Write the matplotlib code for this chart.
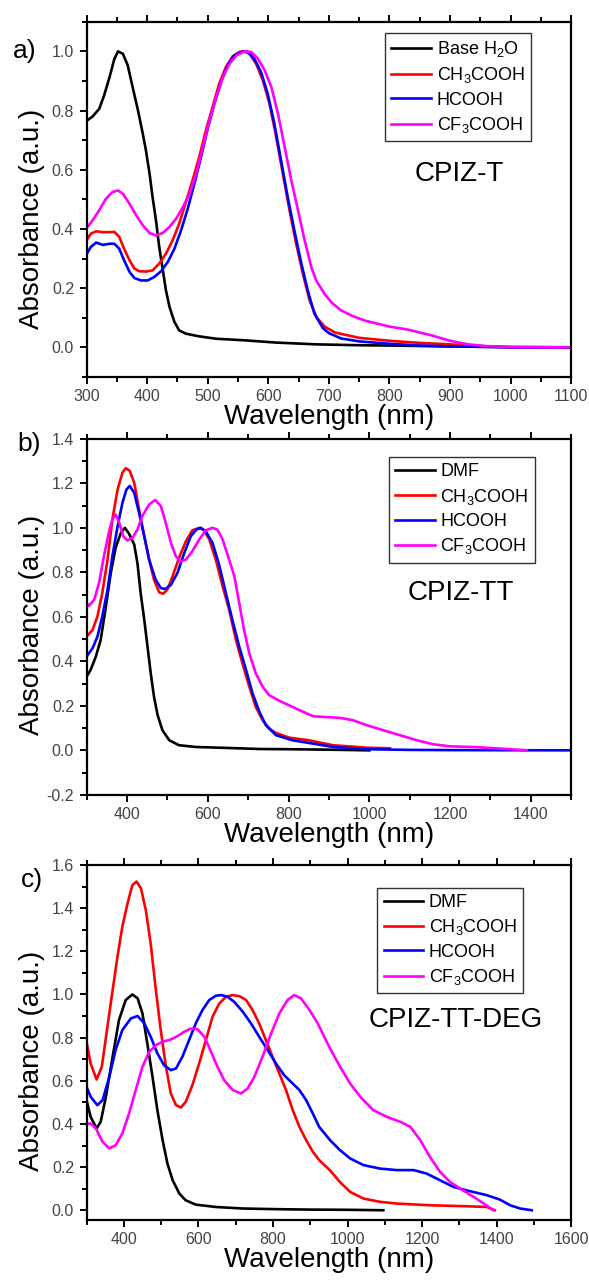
import matplotlib
matplotlib.use('Agg')
import matplotlib.pyplot as plt
from matplotlib.ticker import MultipleLocator

plt.rcParams['font.family'] = ['Liberation Sans', 'DejaVu Sans']
plt.rcParams['mathtext.fontset'] = 'custom'
plt.rcParams['mathtext.rm'] = 'Liberation Sans'
plt.rcParams['mathtext.default'] = 'regular'

# ---- panel a) CPIZ-T ----
a_h2o_x = [300, 310, 321, 329, 338, 346, 352, 360, 368, 376, 385, 393, 398, 404, 409, 415, 420, 426, 431, 437,
           445, 453, 464, 486, 514, 558, 613, 679, 750, 800, 900, 1000, 1100]
a_h2o_y = [0.765, 0.78, 0.806, 0.851, 0.913, 0.975, 1.0, 0.992, 0.953, 0.88, 0.80, 0.72, 0.666, 0.587, 0.508, 0.423,
           0.339, 0.26, 0.193, 0.136, 0.086, 0.057, 0.046, 0.037, 0.029, 0.024, 0.016, 0.010, 0.007, 0.006, 0.003,
           0.001, 0.0]
a_ch3_x = [300, 307, 316, 327, 338, 346, 354, 362, 371, 379, 387, 398, 409, 420, 431, 442, 453, 464, 475, 486,
           497, 508, 519, 530, 541, 552, 560, 569, 580, 591, 602, 613, 624, 635, 646, 657, 668, 680, 693, 710,
           750, 800, 850, 900, 950, 1000, 1100]
a_ch3_y = [0.361, 0.384, 0.392, 0.389, 0.389, 0.39, 0.373, 0.333, 0.294, 0.266, 0.257, 0.256, 0.26, 0.283, 0.316,
           0.361, 0.418, 0.491, 0.564, 0.643, 0.733, 0.812, 0.891, 0.947, 0.983, 0.998, 1.0, 0.992, 0.958, 0.902,
           0.823, 0.711, 0.587, 0.463, 0.35, 0.249, 0.159, 0.10, 0.07, 0.05, 0.032, 0.022, 0.015, 0.01, 0.004, 0.0, 0.0]
a_hc_x = [300, 307, 316, 327, 338, 346, 354, 362, 371, 379, 390, 401, 412, 423, 434, 445, 456, 467, 478, 489,
          500, 511, 522, 533, 544, 558, 566, 577, 588, 599, 610, 621, 632, 643, 654, 665, 676, 690, 700, 720,
          750, 800, 850, 900, 1000, 1100]
a_hc_y = [0.314, 0.339, 0.354, 0.346, 0.35, 0.35, 0.333, 0.294, 0.255, 0.234, 0.226, 0.226, 0.238, 0.257, 0.288,
          0.333, 0.395, 0.468, 0.553, 0.643, 0.739, 0.823, 0.896, 0.953, 0.986, 1.0, 0.998, 0.975, 0.93, 0.857,
          0.756, 0.632, 0.508, 0.395, 0.288, 0.193, 0.114, 0.065, 0.048, 0.03, 0.02, 0.012, 0.006, 0.003, 0.0, 0.0]
a_cf3_x = [300, 310, 321, 332, 343, 352, 360, 371, 382, 393, 404, 415, 426, 437, 448, 459, 470, 481, 492, 503,
           514, 525, 536, 547, 561, 572, 583, 594, 605, 616, 627, 638, 649, 660, 671, 679, 693, 705, 720, 740,
           760, 780, 800, 830, 850, 870, 900, 930, 960, 1000, 1100]
a_cf3_y = [0.403, 0.429, 0.463, 0.502, 0.525, 0.53, 0.519, 0.485, 0.446, 0.412, 0.386, 0.378, 0.387, 0.407, 0.435,
           0.474, 0.519, 0.587, 0.677, 0.767, 0.846, 0.913, 0.958, 0.986, 1.0, 0.998, 0.975, 0.936, 0.88, 0.789,
           0.677, 0.564, 0.463, 0.361, 0.271, 0.226, 0.18, 0.15, 0.125, 0.105, 0.09, 0.08, 0.07, 0.06, 0.05, 0.04,
           0.022, 0.01, 0.004, 0.001, 0.0]

# ---- panel b) CPIZ-TT ----
b_dmf_x = [300, 310, 323, 335, 348, 360, 372, 385, 395, 405, 418, 426, 434, 443, 451, 459, 467, 476, 488, 505,
           529, 571, 645, 728, 800, 900, 1000]
b_dmf_y = [0.331, 0.361, 0.421, 0.496, 0.647, 0.797, 0.91, 0.977, 1.0, 0.974, 0.925, 0.842, 0.707, 0.586, 0.466,
           0.346, 0.241, 0.158, 0.09, 0.045, 0.023, 0.015, 0.011, 0.006, 0.005, 0.003, 0.0]
b_ch3_x = [300, 315, 327, 339, 352, 364, 377, 389, 397, 407, 418, 430, 443, 455, 467, 480, 490, 500, 513, 529,
           546, 562, 579, 591, 604, 620, 637, 653, 670, 686, 703, 719, 736, 752, 769, 802, 851, 910, 994, 1051]
b_ch3_y = [0.511, 0.541, 0.602, 0.707, 0.857, 1.038, 1.173, 1.248, 1.268, 1.256, 1.203, 1.083, 0.962, 0.857, 0.767,
           0.71, 0.704, 0.722, 0.782, 0.865, 0.94, 0.989, 1.0, 0.989, 0.947, 0.857, 0.737, 0.632, 0.496, 0.391,
           0.286, 0.195, 0.135, 0.098, 0.078, 0.057, 0.045, 0.023, 0.012, 0.009]
b_hc_x = [300, 315, 327, 339, 352, 364, 377, 389, 399, 407, 418, 430, 443, 455, 471, 484, 495, 509, 525, 542,
          558, 572, 583, 595, 612, 628, 645, 661, 678, 695, 711, 728, 744, 769, 810, 851, 911, 993, 1100, 1200, 1500]
b_hc_y = [0.421, 0.459, 0.511, 0.602, 0.722, 0.872, 1.008, 1.113, 1.173, 1.188, 1.158, 1.068, 0.962, 0.857, 0.767,
          0.729, 0.725, 0.744, 0.797, 0.887, 0.962, 0.992, 1.0, 0.985, 0.932, 0.835, 0.707, 0.586, 0.466, 0.361,
          0.256, 0.173, 0.113, 0.068, 0.045, 0.033, 0.015, 0.005, 0.002, 0.001, 0.0]
b_cf3_x = [300, 306, 319, 331, 343, 356, 364, 372, 381, 391, 401, 414, 426, 438, 455, 470, 484, 496, 509, 521,
           533, 546, 562, 579, 595, 612, 624, 637, 653, 666, 678, 690, 703, 719, 736, 752, 777, 810, 828, 861,
           927, 960, 994, 1035, 1076, 1118, 1159, 1200, 1258, 1324, 1390]
b_cf3_y = [0.662, 0.65, 0.677, 0.752, 0.872, 0.985, 1.038, 1.06, 1.023, 0.962, 0.943, 0.955, 0.992, 1.053, 1.105,
           1.125, 1.098, 1.023, 0.932, 0.872, 0.85, 0.857, 0.895, 0.947, 0.989, 1.0, 0.992, 0.947, 0.857, 0.782,
           0.662, 0.541, 0.436, 0.346, 0.286, 0.248, 0.223, 0.195, 0.18, 0.153, 0.146, 0.135, 0.113, 0.09, 0.068,
           0.045, 0.027, 0.018, 0.015, 0.008, 0.0]

# ---- panel c) CPIZ-TT-DEG ----
c_dmf_x = [300, 311, 327, 338, 352, 370, 387, 405, 423, 437, 450, 463, 477, 490, 504, 517, 531, 549, 566, 593,
           647, 719, 808, 898, 1000, 1096]
c_dmf_y = [0.51, 0.433, 0.379, 0.41, 0.526, 0.711, 0.881, 0.974, 1.0, 0.982, 0.912, 0.773, 0.618, 0.464, 0.325,
           0.216, 0.139, 0.077, 0.046, 0.026, 0.015, 0.008, 0.005, 0.003, 0.002, 0.0]
c_ch3_x = [300, 311, 327, 341, 356, 370, 383, 396, 410, 423, 434, 446, 459, 472, 486, 499, 513, 526, 540, 553,
           566, 584, 602, 620, 638, 656, 674, 692, 710, 728, 745, 763, 781, 799, 817, 835, 853, 871, 889, 907,
           924, 953, 980, 1007, 1043, 1087, 1132, 1222, 1311, 1374, 1395]
c_ch3_y = [0.781, 0.68, 0.606, 0.665, 0.85, 1.02, 1.175, 1.314, 1.422, 1.507, 1.523, 1.492, 1.391, 1.237, 1.02,
           0.835, 0.665, 0.541, 0.487, 0.476, 0.502, 0.58, 0.68, 0.788, 0.897, 0.958, 0.989, 0.997, 0.992, 0.974,
           0.928, 0.866, 0.788, 0.711, 0.634, 0.557, 0.464, 0.386, 0.325, 0.271, 0.232, 0.185, 0.13, 0.085, 0.054,
           0.039, 0.031, 0.023, 0.019, 0.015, 0.0]
c_hc_x = [300, 311, 329, 343, 361, 378, 396, 419, 437, 455, 472, 490, 508, 526, 540, 557, 575, 593, 611, 629,
          647, 662, 678, 696, 719, 741, 763, 786, 808, 830, 853, 871, 889, 907, 924, 953, 980, 1007, 1043, 1087,
          1132, 1177, 1212, 1248, 1284, 1329, 1373, 1409, 1436, 1463, 1494]
c_hc_y = [0.572, 0.526, 0.487, 0.51, 0.618, 0.742, 0.835, 0.889, 0.9, 0.866, 0.804, 0.727, 0.672, 0.649, 0.657,
          0.711, 0.788, 0.866, 0.928, 0.974, 0.994, 0.997, 0.989, 0.966, 0.92, 0.866, 0.804, 0.742, 0.68, 0.626,
          0.587, 0.557, 0.51, 0.448, 0.386, 0.325, 0.278, 0.24, 0.209, 0.193, 0.186, 0.186, 0.17, 0.139, 0.108,
          0.088, 0.07, 0.049, 0.023, 0.008, 0.0]
c_cf3_x = [300, 311, 325, 343, 361, 378, 396, 414, 432, 450, 468, 486, 504, 526, 544, 562, 580, 598, 616, 634,
           651, 669, 692, 714, 732, 750, 772, 795, 817, 839, 857, 875, 898, 920, 942, 953, 980, 1007, 1034, 1069,
           1105, 1141, 1168, 1195, 1221, 1248, 1275, 1302, 1338, 1365, 1391]
c_cf3_y = [0.399, 0.402, 0.379, 0.317, 0.286, 0.301, 0.356, 0.448, 0.557, 0.665, 0.734, 0.765, 0.781, 0.791, 0.807,
           0.827, 0.842, 0.838, 0.804, 0.734, 0.665, 0.603, 0.557, 0.541, 0.564, 0.618, 0.711, 0.819, 0.912, 0.974,
           0.997, 0.982, 0.928, 0.866, 0.788, 0.75, 0.665, 0.587, 0.526, 0.464, 0.433, 0.41, 0.387, 0.325, 0.247,
           0.178, 0.131, 0.1, 0.062, 0.031, 0.0]

colors = ['black', '#ff0000', '#0000ff', '#ff00ff']
labels_a = ['Base H$_2$O', 'CH$_3$COOH', 'HCOOH', 'CF$_3$COOH']
labels_bc = ['DMF', 'CH$_3$COOH', 'HCOOH', 'CF$_3$COOH']

panels = [
    dict(series=[(a_h2o_x, a_h2o_y), (a_ch3_x, a_ch3_y), (a_hc_x, a_hc_y), (a_cf3_x, a_cf3_y)],
         labels=labels_a, xlim=(300, 1100), ylim=(-0.1, 1.1), xmaj=100, xmin=50,
         name='CPIZ-T', name_xy=(916, 0.585), tag='a)', tag_xy=(0.022, 0.960), ylab_y=0.446,
         rect=[0.1469, 0.706, 0.823, 0.277], leg=(0.616, 0.969)),
    dict(series=[(b_dmf_x, b_dmf_y), (b_ch3_x, b_ch3_y), (b_hc_x, b_hc_y), (b_cf3_x, b_cf3_y)],
         labels=labels_bc, xlim=(300, 1500), ylim=(-0.2, 1.4), xmaj=200, xmin=100,
         name='CPIZ-TT', name_xy=(1226, 0.707), tag='b)', tag_xy=(0.029, 0.654), ylab_y=0.478,
         rect=[0.1469, 0.380, 0.823, 0.2777], leg=(0.624, 0.949)),
    dict(series=[(c_dmf_x, c_dmf_y), (c_ch3_x, c_ch3_y), (c_hc_x, c_hc_y), (c_cf3_x, c_cf3_y)],
         labels=labels_bc, xlim=(300, 1600), ylim=(-0.045, 1.6), xmaj=200, xmin=100,
         name='CPIZ-TT-DEG', name_xy=(1289, 0.881), tag='c)', tag_xy=(0.036, 0.3136), ylab_y=0.448,
         rect=[0.1469, 0.0484, 0.823, 0.2769], leg=(0.600, 0.936)),
]

fig = plt.figure(figsize=(5.89, 12.82), dpi=100)

for p in panels:
    ax = fig.add_axes(p['rect'])
    for (x, y), c, lab in zip(p['series'], colors, p['labels']):
        ax.plot(x, y, color=c, lw=1.9, label=lab)
    ax.set_xlim(*p['xlim'])
    ax.set_ylim(*p['ylim'])
    ax.xaxis.set_major_locator(MultipleLocator(p['xmaj']))
    ax.xaxis.set_minor_locator(MultipleLocator(p['xmin']))
    ax.yaxis.set_major_locator(MultipleLocator(0.2))
    ax.yaxis.set_minor_locator(MultipleLocator(0.1))
    ax.yaxis.set_major_formatter(plt.FuncFormatter(lambda v, pos: f'{v:.1f}'))
    ax.tick_params(which='both', direction='out', top=True, right=False, width=1.4,
                   labelsize=11.5, labelcolor='#444444', pad=4)
    ax.tick_params(which='major', length=5)
    ax.tick_params(which='minor', length=3.5)
    for s in ax.spines.values():
        s.set_linewidth(1.6)
    ax.set_xlabel('Wavelength (nm)', fontsize=20, labelpad=0)
    ax.set_ylabel('Absorbance (a.u.)', fontsize=20)
    ax.yaxis.set_label_coords(-0.085, p['ylab_y'])
    ax.text(p['name_xy'][0], p['name_xy'][1], p['name'], fontsize=20, ha='center', va='center')
    leg = ax.legend(loc='upper left', bbox_to_anchor=p['leg'], fontsize=13, frameon=True,
                    fancybox=False, edgecolor='#333333', framealpha=1, handlelength=2.2,
                    handletextpad=0.3, labelspacing=0.35, borderpad=0.35, borderaxespad=0)
    leg.get_frame().set_linewidth(1.0)
    fig.text(p['tag_xy'][0], p['tag_xy'][1], p['tag'], fontsize=19, ha='left', va='center')

plt.savefig('out.png', dpi=100)
plt.close()
